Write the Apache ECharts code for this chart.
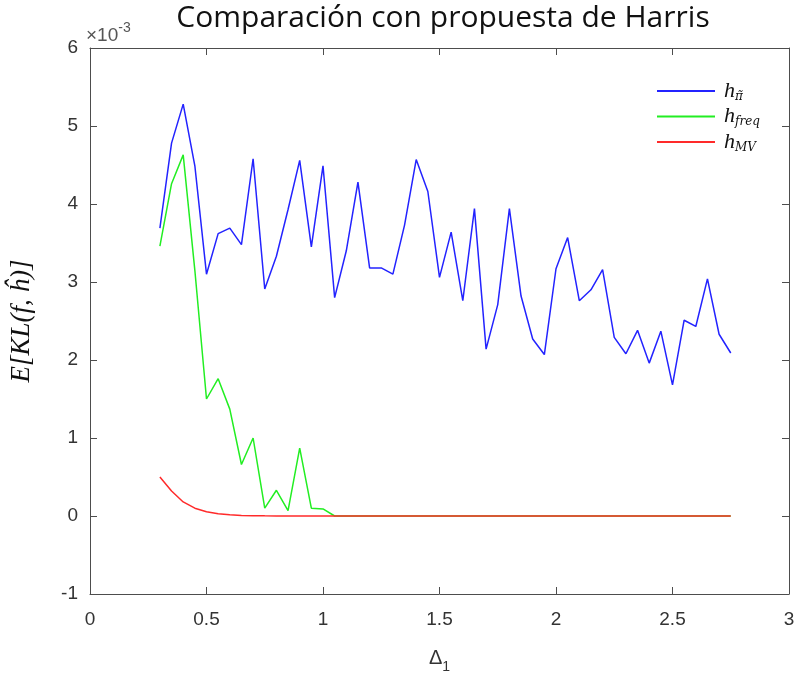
<!DOCTYPE html>
<html>
<head>
<meta charset="utf-8">
<script src="https://cdn.jsdelivr.net/npm/echarts@6/dist/echarts.min.js"></script>
<style>html,body{margin:0;padding:0;background:#fff;}#c{width:798px;height:679px;}</style>
</head>
<body>
<div id="c"></div>
<script>
// x values (Δ1)
const deltas = [0.3,0.35,0.4,0.45,0.5,0.55,0.6,0.65,0.7,0.75,0.8,0.85,0.9,0.95,1.0,1.05,1.1,1.15,1.2,1.25,1.3,1.35,1.4,1.45,1.5,1.55,1.6,1.65,1.7,1.75,1.8,1.85,1.9,1.95,2.0,2.05,2.1,2.15,2.2,2.25,2.3,2.35,2.4,2.45,2.5,2.55,2.6,2.65,2.7,2.75];
// values in units of 1e-3
const hPi = [3.69,4.78,5.28,4.49,3.10,3.62,3.69,3.48,4.58,2.91,3.33,3.93,4.56,3.45,4.49,2.80,3.40,4.28,3.18,3.18,3.10,3.73,4.57,4.16,3.06,3.64,2.76,3.94,2.14,2.71,3.94,2.82,2.27,2.07,3.17,3.57,2.76,2.90,3.16,2.29,2.08,2.38,1.96,2.37,1.68,2.51,2.43,3.04,2.33,2.09];
const hFreq = [3.46,4.26,4.63,3.15,1.50,1.76,1.37,0.66,1.00,0.10,0.33,0.07,0.87,0.10,0.09,0.0,0,0,0,0,0,0,0,0,0,0,0,0,0,0,0,0,0,0,0,0,0,0,0,0,0,0,0,0,0,0,0,0,0,0];
const hMV = [0.50,0.32,0.18,0.10,0.055,0.03,0.015,0.008,0.004,0.002,0.001,0,0,0,0,0,0,0,0,0,0,0,0,0,0,0,0,0,0,0,0,0,0,0,0,0,0,0,0,0,0,0,0,0,0,0,0,0,0,0];
const xTicks = [0,0.5,1,1.5,2,2.5,3];
const yTicks = [-1,0,1,2,3,4,5,6];
const seriesNames = ['pi','freq','MV'];
const legendSubs = {pi:'π̃', freq:'freq', MV:'MV'};

const pairs = arr => deltas.map((x,i)=>[x,arr[i]]);
const axisColor = '#4d4d4d';
const labelColor = '#333';

const chart = echarts.init(document.getElementById('c'), null, {renderer:'canvas'});
const xBase = {
  type:'value', min:xTicks[0], max:xTicks[xTicks.length-1], interval:0.5,
  axisLine:{show:true, onZero:false, lineStyle:{color:axisColor,width:1}},
  axisTick:{show:true, inside:true, length:7, lineStyle:{color:axisColor}},
  splitLine:{show:false}
};
const yBase = {
  type:'value', min:yTicks[0], max:yTicks[yTicks.length-1], interval:1,
  axisLine:{show:true, onZero:false, lineStyle:{color:axisColor,width:1}},
  axisTick:{show:true, inside:true, length:7, lineStyle:{color:axisColor}},
  splitLine:{show:false}
};
chart.setOption({
  animation:false,
  title:{
    text:'Comparación con propuesta de Harris',
    left:438, top:-2, textAlign:'center',
    textStyle:{fontFamily:'Open Sans', fontSize:30, fontWeight:'normal', color:'#111'}
  },
  grid:{left:85, right:9, top:48, bottom:78, containLabel:false},
  legend:{
    orient:'vertical', left:652, top:75, itemWidth:58, itemHeight:2, itemGap:3,
    icon:'rect',
    data:seriesNames,
    formatter: n => '{h|h}{s|' + legendSubs[n] + '}',
    textStyle:{
      rich:{
        h:{fontFamily:'Liberation Serif', fontStyle:'italic', fontSize:22, color:'#111', lineHeight:23, verticalAlign:'middle', padding:[0,0,0,4]},
        s:{fontFamily:'DejaVu Serif', fontStyle:'italic', fontSize:12, color:'#111', lineHeight:12, verticalAlign:'bottom'}
      }
    }
  },
  xAxis:[
    Object.assign({}, xBase, {
      position:'bottom',
      axisLabel:{show:true, margin:16, fontFamily:'Liberation Sans', fontSize:19, color:labelColor},
      name:'{d|Δ}{s|1}', nameLocation:'middle', nameGap:52,
      nameTextStyle:{rich:{
        d:{fontFamily:'Liberation Sans', fontSize:20, color:labelColor, lineHeight:24, verticalAlign:'middle'},
        s:{fontFamily:'Liberation Sans', fontSize:14, color:labelColor, lineHeight:12, verticalAlign:'bottom', padding:[0,0,-4,0]}
      }}
    }),
    Object.assign({}, xBase, {position:'top', axisLabel:{show:false}})
  ],
  yAxis:[
    Object.assign({}, yBase, {
      position:'left',
      axisLabel:{show:true, margin:12, fontFamily:'Liberation Sans', fontSize:19, color:labelColor},
      name:'E[KL(f, ĥ)]', nameLocation:'middle', nameGap:55, nameRotate:90,
      nameTextStyle:{fontFamily:'Liberation Serif', fontStyle:'italic', fontSize:27, color:'#111', padding:[0,0,0,0]}
    }),
    Object.assign({}, yBase, {position:'right', axisLabel:{show:false}})
  ],
  graphic:[{
    type:'text', left:86, top:21,
    style:{
      text:'{a|×10}{b|-3}',
      rich:{
        a:{fontFamily:'Liberation Sans', fontSize:19, fill:'#555', lineHeight:24, verticalAlign:'bottom'},
        b:{fontFamily:'Liberation Sans', fontSize:14, fill:'#555', lineHeight:24, verticalAlign:'top'}
      }
    }
  }],
  series:[
    {name:'pi', type:'line', data:pairs(hPi), symbol:'none', lineStyle:{color:'#2323ff', width:1.5}, itemStyle:{color:'#2323ff'}},
    {name:'freq', type:'line', data:pairs(hFreq), symbol:'none', lineStyle:{color:'#22ee22', width:1.5}, itemStyle:{color:'#22ee22'}},
    {name:'MV', type:'line', data:pairs(hMV), symbol:'none', lineStyle:{color:'#ff2a2a', width:1.5}, itemStyle:{color:'#ff2a2a'}}
  ]
});
</script>
</body>
</html>
